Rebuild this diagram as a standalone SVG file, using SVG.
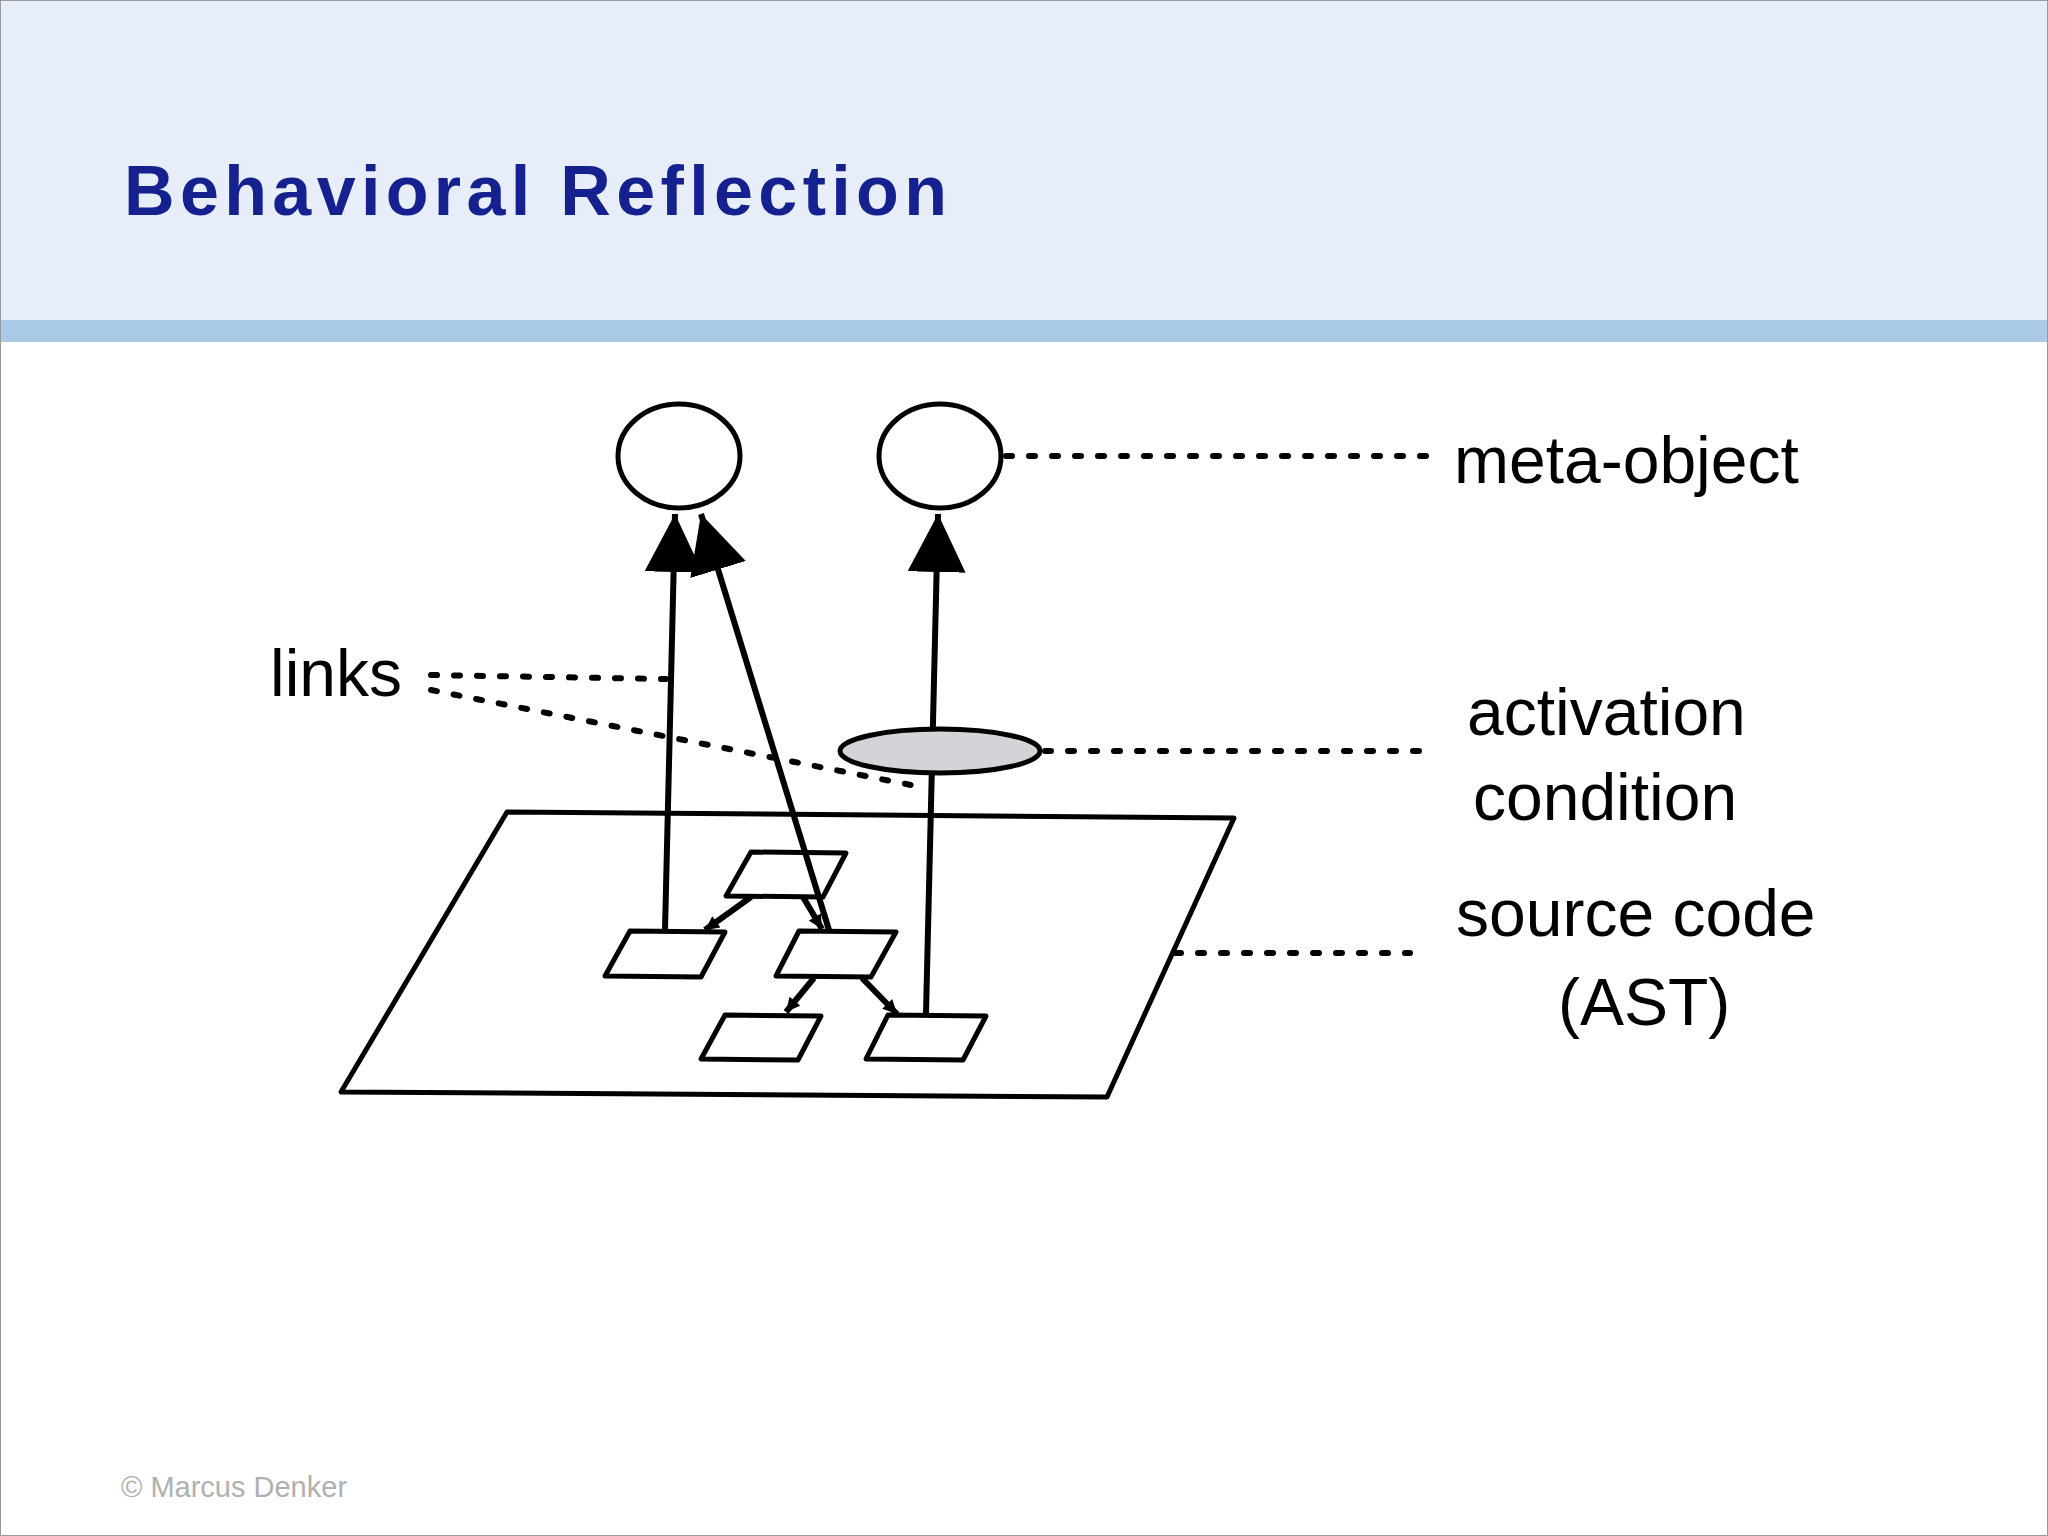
<svg xmlns="http://www.w3.org/2000/svg" width="2048" height="1536" viewBox="0 0 2048 1536">
<style>
.s{fill:#fff;stroke:#000;stroke-width:5;stroke-linejoin:round}
.d{stroke:#000;stroke-width:6;stroke-dasharray:6 17;stroke-linecap:round;fill:none}
.l{stroke:#000;stroke-width:6;fill:none}
.t{font-family:"Liberation Sans",Arial,sans-serif;font-size:66px;fill:#000}
</style>
<defs>
<marker id="big" viewBox="0 0 10 10" refX="10" refY="5" markerUnits="userSpaceOnUse" markerWidth="58" markerHeight="70" orient="auto"><path d="M0,0 L10,5 L0,10 z"/></marker>
<marker id="sm" viewBox="0 0 10 10" refX="10" refY="5" markerUnits="userSpaceOnUse" markerWidth="16" markerHeight="14" orient="auto"><path d="M0,0 L10,5 L0,10 z"/></marker>
</defs>
<rect width="2048" height="1536" fill="#fff"/>
<rect width="2048" height="320" fill="#e8eef9"/>
<rect y="320" width="2048" height="22" fill="#aac9e6"/>
<rect x="0.5" y="0.5" width="2047" height="1535" fill="none" stroke="#999"/>
<text x="124" y="215" font-family="'Liberation Sans',Arial,sans-serif" font-weight="bold" font-size="70" fill="#14218f" textLength="823">Behavioral Reflection</text>
<g id="plane"><polygon class="s" points="507,812 1234,818 1107,1097 341,1092"/></g>
<g id="n1"><polygon class="s" points="751,852 846,853 823,897 726,896"/></g>
<g id="n2"><polygon class="s" points="630,931 725,932 701,977 605,976"/></g>
<g id="n3"><polygon class="s" points="799,931 896,932 871,977 776,976"/></g>
<g id="n4"><polygon class="s" points="725,1015 821,1016 798,1060 701,1059"/></g>
<g id="n5"><polygon class="s" points="888,1015 986,1016 963,1060 866,1059"/></g>
<g id="meta1"><ellipse class="s" cx="679" cy="456" rx="61" ry="52"/></g>
<g id="meta2"><ellipse class="s" cx="940" cy="456" rx="61" ry="52"/></g>
<g id="connectors">
<line class="l" stroke-width="3" x1="751" y1="897" x2="705" y2="930" marker-end="url(#sm)"/>
<line class="l" stroke-width="3" x1="803" y1="897" x2="822" y2="929" marker-end="url(#sm)"/>
<line class="l" stroke-width="3" x1="814" y1="978" x2="786" y2="1012" marker-end="url(#sm)"/>
<line class="l" stroke-width="3" x1="862" y1="978" x2="897" y2="1014" marker-end="url(#sm)"/>
<line class="l" x1="665" y1="930" x2="675" y2="514" marker-end="url(#big)"/>
<line class="l" x1="829" y1="930" x2="701" y2="514" marker-end="url(#big)"/>
<line class="l" x1="926" y1="1013" x2="938" y2="514" marker-end="url(#big)"/>
<path class="d" d="M1006,456 H1430"/>
<path class="d" d="M431,675 L666,679"/>
<path class="d" d="M431,690 L921,787"/>
<path class="d" d="M1045,751 H1430"/>
<path class="d" d="M1175,953 H1410"/>
</g>
<g id="cond"><ellipse cx="940" cy="751" rx="100" ry="22" fill="#d4d3d8" stroke="#000" stroke-width="5"/></g>
<text class="t" x="1454" y="483">meta-object</text>
<text class="t" x="270" y="696">links</text>
<text class="t" x="1467" y="735">activation</text>
<text class="t" x="1473" y="820">condition</text>
<text class="t" x="1456" y="936">source code</text>
<text class="t" x="1558" y="1025">(AST)</text>
<text x="121" y="1497" font-family="'Liberation Sans',Arial,sans-serif" font-size="29" fill="#b0b0b0">© Marcus Denker</text>
</svg>
